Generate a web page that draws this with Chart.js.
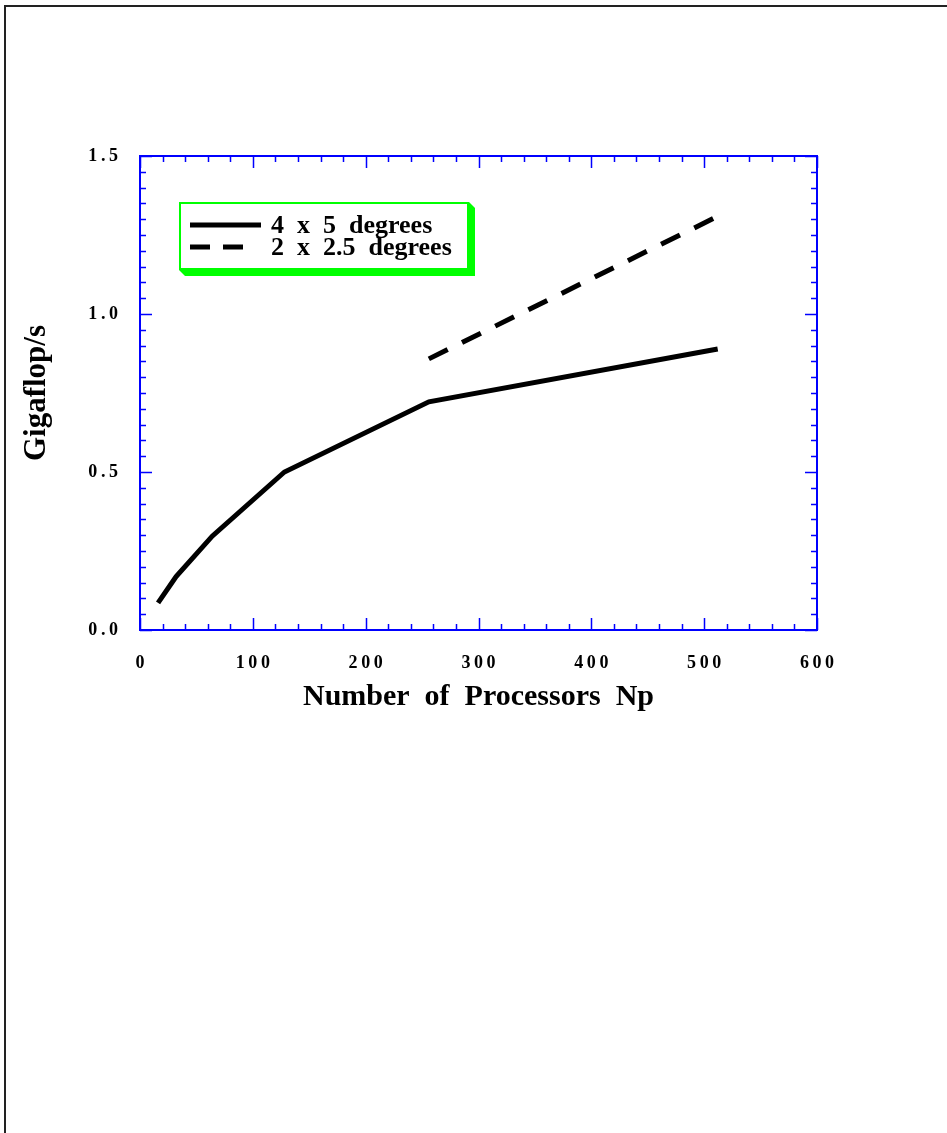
<!DOCTYPE html>
<html>
<head>
<meta charset="utf-8">
<title>Gigaflop/s vs processors</title>
<script src="https://cdn.jsdelivr.net/npm/chart.js@4.4.1/dist/chart.umd.min.js"></script>
<style>
    html, body { margin: 0; padding: 0; background: #fff; overflow: hidden; }
    body { width: 947px; height: 1133px; position: relative; }
    #page {
        position: absolute; left: 4px; top: 5px; width: 942px; height: 1200px;
        border-top: 2px solid #222; border-left: 2px solid #222;
    }
    #plot { position: absolute; left: 0; top: 0; }
</style>
</head>
<body>
<div id="page"></div>
<canvas id="plot" width="947" height="720"></canvas>
<script>
// Sustained speed for the two grid resolutions
var procCoarse = [16, 32, 64, 128, 256, 512];
var gflopsCoarse = [0.086, 0.169, 0.297, 0.5, 0.722, 0.889];
var procFine = [256, 512];
var gflopsFine = [0.858, 1.309];

var seriesLabels = ["4  x  5  degrees", "2  x  2.5  degrees"];
var xTitle = "Number  of  Processors  Np";
var yTitle = "Gigaflop/s";

// axis ranges and tick steps
var xRange = [0, 600], xMajor = 100, xMinor = 20;
var yRange = [0, 1.5], yMajor = 0.5, yMinor = 0.05;

var serif = "'Liberation Serif', 'Times New Roman', serif";
var axisBlue = "#0000ff";
var legendGreen = "#00ff00";

function toPoints(xs, ys) {
    return xs.map(function (x, i) { return { x: x, y: ys[i] }; });
}

// spread the characters of a tick label a little
function spaced(str) {
    return str.split("").join("\u2009");
}

// blue frame with inward ticks on all four sides
var framePlugin = {
    id: "frame",
    afterDatasetsDraw: function (chart) {
        var ctx = chart.ctx, a = chart.chartArea;
        var xs = chart.scales.x, ys = chart.scales.y;
        ctx.save();
        ctx.strokeStyle = axisBlue;
        ctx.lineWidth = 2;
        ctx.strokeRect(a.left, a.top, a.right - a.left, a.bottom - a.top);
        ctx.lineWidth = 1.5;
        ctx.beginPath();
        var n, v, p, len;
        for (n = 0; n * xMinor <= xRange[1]; n++) {
            v = n * xMinor;
            p = Math.round(xs.getPixelForValue(v)) + 0.5;
            len = (v % xMajor === 0) ? 12 : 6;
            ctx.moveTo(p, a.bottom); ctx.lineTo(p, a.bottom - len);
            ctx.moveTo(p, a.top); ctx.lineTo(p, a.top + len);
        }
        for (n = 0; n * yMinor <= yRange[1] + 1e-9; n++) {
            v = n * yMinor;
            p = Math.round(ys.getPixelForValue(v)) + 0.5;
            len = (n % Math.round(yMajor / yMinor) === 0) ? 12 : 6;
            ctx.moveTo(a.left, p); ctx.lineTo(a.left + len, p);
            ctx.moveTo(a.right, p); ctx.lineTo(a.right - len, p);
        }
        ctx.stroke();
        ctx.restore();
    }
};

// boxed legend with a green drop shadow
var legendPlugin = {
    id: "boxLegend",
    afterDraw: function (chart) {
        var ctx = chart.ctx;
        var bx = 179, by = 202, bw = 290, bh = 68, sh = 6;
        ctx.save();
        ctx.fillStyle = legendGreen;
        ctx.beginPath();
        ctx.moveTo(bx + bw, by);
        ctx.lineTo(bx + bw + sh, by + sh);
        ctx.lineTo(bx + bw + sh, by + bh + sh);
        ctx.lineTo(bx + sh, by + bh + sh);
        ctx.lineTo(bx, by + bh);
        ctx.closePath();
        ctx.fill();
        ctx.fillStyle = "#fff";
        ctx.fillRect(bx, by, bw, bh);
        ctx.strokeStyle = legendGreen;
        ctx.lineWidth = 2;
        ctx.strokeRect(bx + 1, by + 1, bw - 2, bh - 2);

        ctx.font = "bold 26px " + serif;
        ctx.textBaseline = "alphabetic";
        ctx.fillStyle = "#000";
        chart.data.datasets.forEach(function (ds, i) {
            var ly = 225 + i * 22;
            ctx.strokeStyle = ds.borderColor;
            ctx.lineWidth = ds.borderWidth;
            ctx.setLineDash(ds.borderDash ? [20, 13] : []);
            ctx.beginPath();
            ctx.moveTo(190, ly);
            ctx.lineTo(ds.borderDash ? 244 : 261, ly);
            ctx.stroke();
            ctx.setLineDash([]);
            ctx.fillText(ds.label, 271, ly + 8);
        });
        ctx.restore();
    }
};

new Chart(document.getElementById("plot"), {
    type: "line",
    data: {
        datasets: [{
            label: seriesLabels[0],
            data: toPoints(procCoarse, gflopsCoarse),
            borderColor: "#000",
            borderWidth: 5,
            pointRadius: 0,
            tension: 0
        }, {
            label: seriesLabels[1],
            data: toPoints(procFine, gflopsFine),
            borderColor: "#000",
            borderWidth: 5,
            borderDash: [21, 16],
            pointRadius: 0,
            tension: 0
        }]
    },
    options: {
        responsive: false,
        animation: false,
        events: [],
        layout: { padding: { top: 156, right: 130, left: 18, bottom: 5 } },
        plugins: {
            legend: { display: false },
            tooltip: { enabled: false }
        },
        scales: {
            x: {
                type: "linear",
                min: xRange[0],
                max: xRange[1],
                grid: { display: false, drawTicks: false },
                border: { display: false },
                afterFit: function (scale) { scale.height = 85; },
                ticks: {
                    stepSize: xMajor,
                    padding: 23,
                    color: "#000",
                    maxRotation: 0,
                    font: { family: serif, size: 18, weight: "bold" },
                    callback: function (v) { return spaced(String(v)); }
                },
                title: {
                    display: true,
                    text: xTitle,
                    color: "#000",
                    padding: 0,
                    font: { family: serif, size: 30, weight: "bold" }
                }
            },
            y: {
                type: "linear",
                min: yRange[0],
                max: yRange[1],
                grid: { display: false, drawTicks: false },
                border: { display: false },
                afterFit: function (scale) { scale.width = 122; },
                ticks: {
                    stepSize: yMajor,
                    padding: 22,
                    color: "#000",
                    font: { family: serif, size: 18, weight: "bold" },
                    callback: function (v) { return spaced(v.toFixed(1)); }
                },
                title: {
                    display: true,
                    text: yTitle,
                    color: "#000",
                    padding: 0,
                    font: { family: serif, size: 31, weight: "bold" }
                }
            }
        }
    },
    plugins: [framePlugin, legendPlugin]
});
</script>
</body>
</html>
